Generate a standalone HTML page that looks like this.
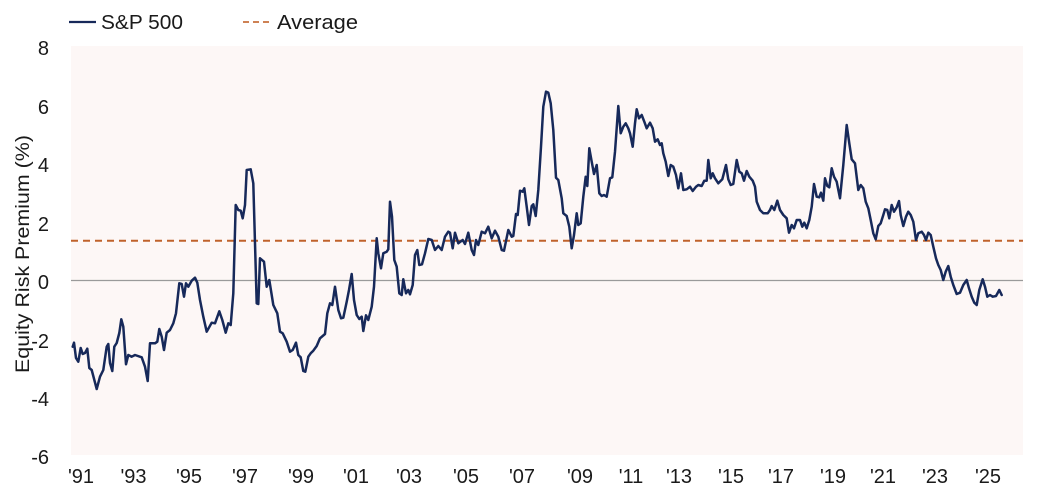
<!DOCTYPE html>
<html>
<head>
<meta charset="utf-8">
<style>
  html, body { margin: 0; padding: 0; background: #ffffff; }
  body { width: 1042px; height: 493px; overflow: hidden; }
  svg { display: block; }
  text { font-family: "Liberation Sans", "DejaVu Sans", sans-serif; fill: #1a1a1a; }
</style>
</head>
<body>
<svg width="1042" height="493" viewBox="0 0 1042 493" xmlns="http://www.w3.org/2000/svg">
  <!-- plot background -->
  <rect x="71" y="46" width="952" height="409" fill="#fdf7f6"/>

  <!-- legend -->
  <line x1="69" y1="22" x2="96" y2="22" stroke="#17295a" stroke-width="2.2"/>
  <text x="101" y="29" font-size="20" textLength="82" lengthAdjust="spacingAndGlyphs">S&amp;P 500</text>
  <line x1="243" y1="22" x2="271" y2="22" stroke="#c8703c" stroke-width="1.8" stroke-dasharray="6,4"/>
  <text x="277" y="29" font-size="20" textLength="81" lengthAdjust="spacingAndGlyphs">Average</text>

  <!-- y axis title -->
  <text transform="translate(29,254) rotate(-90)" text-anchor="middle" font-size="19" textLength="238" lengthAdjust="spacingAndGlyphs">Equity Risk Premium (%)</text>

  <!-- y tick labels -->
  <g font-size="20" text-anchor="end">
    <text x="49" y="55">8</text>
    <text x="49" y="114">6</text>
    <text x="49" y="172">4</text>
    <text x="49" y="231">2</text>
    <text x="49" y="289">0</text>
    <text x="49" y="348">-2</text>
    <text x="49" y="406">-4</text>
    <text x="49" y="464">-6</text>
  </g>

  <!-- x tick labels -->
  <g font-size="20" text-anchor="middle">
    <text x="81" y="483">'91</text>
    <text x="133.5" y="483">'93</text>
    <text x="189" y="483">'95</text>
    <text x="245" y="483">'97</text>
    <text x="301" y="483">'99</text>
    <text x="356" y="483">'01</text>
    <text x="409" y="483">'03</text>
    <text x="466" y="483">'05</text>
    <text x="522" y="483">'07</text>
    <text x="580" y="483">'09</text>
    <text x="631" y="483">'11</text>
    <text x="679" y="483">'13</text>
    <text x="731" y="483">'15</text>
    <text x="781" y="483">'17</text>
    <text x="833" y="483">'19</text>
    <text x="883" y="483">'21</text>
    <text x="935" y="483">'23</text>
    <text x="988" y="483">'25</text>
  </g>

  <!-- zero line -->
  <line x1="71" y1="280.5" x2="1023" y2="280.5" stroke="#9a9a9a" stroke-width="1.3"/>

  <!-- average line -->
  <line x1="71" y1="240.7" x2="1023" y2="240.7" stroke="#c0622b" stroke-width="2" stroke-dasharray="7,5"/>

  <!-- S&P 500 series -->
  <polyline fill="none" stroke="#17295a" stroke-width="2.5" stroke-linejoin="round" stroke-linecap="round" points="
72.7,346.7 74,342.7 76,358 78.3,361.7 80.7,348 82.7,354 85,353 87.3,348.7 89.3,368 91.7,370 96.7,389 100,376.7 103.3,370 106.7,346.7 108.3,344 110,363 112.3,371 114.3,346.7 116.7,343 119.3,333 121.3,319.3 123.3,326.7 126,364.3 128.3,355 131.7,356.7 135,355 141.7,357.3 145,366.7 147.7,381 150,343.3 155,343.3 157.3,341.7 159.3,329 161.7,336.7 164,350 166.7,332.7 170,330 173.3,323.3 176,313.3 179.3,283.3 181.7,284 184,296.7 186,283.3 188.3,286.7 191.7,280.7 195,277.7 197.3,282.7 200,300 203.3,316.7 206.7,331.7 211.7,322.7 215,323.3 219.3,311.3 222.3,320 225.7,332.7 228.3,323.3 230.7,325 233.3,293.3 235.7,205 238.3,210 240.7,210.7 242.7,218.3 245,205 246.7,170 250.7,169.3 253.3,183.3 256.7,303.3 258.3,304 260,258.3 264,261.7 266.7,286.7 269.3,280
273.3,305 277.3,313.3 280,331.7 282.7,333.3 286.7,341.7 290,351.7 292.7,350 296,342.7 298.3,355 300.7,357.3 303.3,371 305.3,371.7 308.3,356.7 310.7,353.3 313.3,350.7 316.7,346 320,338.3 325,334 327.3,313.3 330,303.3 332.3,305 335,286.7 338.3,310 341,318.3 343.3,317.7 346.7,301.7 349,290 351.7,274 354,300 356.7,315 359.3,319 361.7,316.7 363.3,331 366,315.3 368.3,320 371.7,306.7 374,286.7 376.7,238.3 378.3,253.3 381,268.3 383.3,253.3 386.7,251.7 388.3,249.3 390,201.7 392,216.7 394.3,260 396.7,266.7 399.3,293.3 401.7,295 403.3,279.3 406,293.3 408.3,290 410,294.3 412.7,285 415,255 417.3,250 419.3,265 422,264.3 425,253.3 428.3,239 431.7,240 435,250 438.3,246 441.7,250 445,236.7 448.3,231.7 450,232.7 452.7,248.3 455,232.7 458.3,243.3 462.7,240 465,244 468.3,232.7 471.7,250 474,255 476,240 478.3,245 481.7,231.7 485,233.3 488.3,226.7
491.7,238.3 495,230.7 498.3,236.7 501.7,250 504,250.7 508.3,230 511.7,236.7 513.3,236 516,214 517.7,215 520,190.7 522.7,191.7 524.3,188.3 526.7,206.7 529,225 531.7,206 533.3,204.3 535.7,216 538.3,190 541,146.7 543.3,106.7 546,91.7 548.3,92.7 550.7,103.3 553.3,130 556,177.7 558.3,180 561.7,198.3 563.3,213.3 566.7,216 569.3,226.7 571.7,248.3 574,235 576.7,213.3 578.3,225 580.7,223.3 583.3,196.7 585.7,176.7 587.3,186 589.3,148.3 591.7,161.7 594,174 596.7,165 599.3,193.3 601.7,196 604,195 606.7,196.7 610,178.3 612.3,177.3 615,151.7 618.3,106 620.7,133.3 623.3,126.7 625.7,123.3 628.3,128.3 630,133.3 632.7,146.7 635,123.3 636.7,109.3 639,118.3 641.7,115 644.3,121.7 646.7,128.3 650,122.7 652.7,128.3 655,141.7 657.7,139.3 660,145 661.7,143.3 663.3,153.3 665.7,161.7 668.3,176 670.7,165 673.3,166.7 676,175 678.3,188.3 681,173.3 683.3,190 686.7,189.3
690,186.7 692.7,191 696,186.7 698.3,185 701.7,186 704.3,180.7 706.7,180.7 708.3,160 710.7,178.3 712.7,173.3 715,178.3 718.3,183.3 722.3,179.3 726,165 728.3,179.3 730.7,185 733.3,184 736.7,160 739.3,171.7 741.7,173.3 744,180.7 746.7,171 749.3,176.7 752.7,180.7 755,186.7 756.7,201.7 760,210 763.3,213.3 767.7,213.3 770,210 771.7,206 774.3,210 777.3,200.7 780,210 783.3,215 786.7,218.3 789,232.7 791.7,225 794,228.3 796.7,220 800,220 802.3,226.7 804.3,222.7 806.7,228.3 809.3,220 811.7,206.7 814,184 816.7,196.7 819.3,197.3 821,192.7 823.3,200.7 825,178.3 827.3,186 829.3,187.3 831.7,168.3 834,176.7 836.7,181.7 840,198.3 843.3,165 846.7,125 849.3,143.3 851.7,159.3 855,163.3
858.3,190 860.7,185 863.3,188.3 865.7,201.7 868.3,208.3 870.7,220 873.3,233.3 875.7,239.3 878.3,226 880.7,223.3 883.3,215 885,209.3 887.3,210 889.3,218.3 891.7,205 894,211.7 896.7,207.3 899,201 900.7,215 903.3,226 906,216.7 908.3,211.7 910.7,215 913.3,221.7 916,240 918.3,233.3 921.7,231.7 924,235 926,240 928.3,232.7 930.7,235 933.3,246.7 936,258.3 938.3,265 940.7,270 943.3,280 945.7,271.7 948.3,266 950.7,276.7 953.3,285 956.7,294 960,292.7 963.3,285 966.7,280 969,288.3 971.7,296.7 974.3,302.7 976.7,305 979.3,290 982.7,279.3 985,286.7 987.3,296.7 990,295 992.7,296.7 996,296 999.3,290 1001.7,295"/>
</svg>
</body>
</html>
